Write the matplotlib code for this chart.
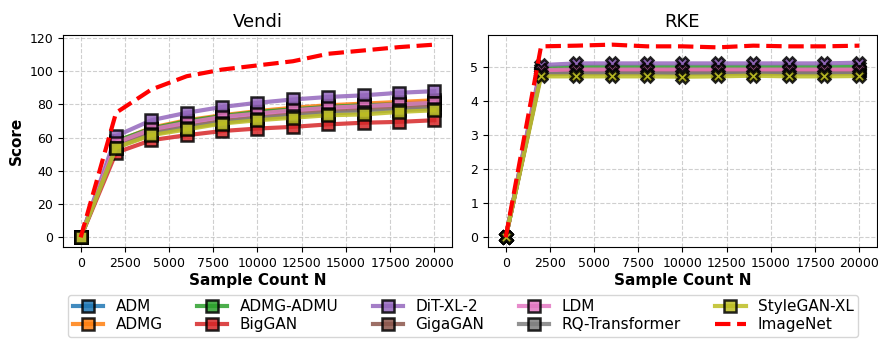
import matplotlib
import matplotlib.pyplot as plt
import numpy as np

matplotlib.use('Agg')

sample_counts = [0, 2000, 4000, 6000, 8000, 10000, 12000, 14000, 16000, 18000, 20000]

models = ['ADM', 'ADMG', 'ADMG-ADMU', 'BigGAN', 'DiT-XL-2',
          'GigaGAN', 'LDM', 'RQ-Transformer', 'StyleGAN-XL']

vendi_adm = [0, 57, 65, 69.5, 72.5, 75, 77, 78.5, 79.5, 80.5, 81.5]
vendi_admg = [0, 57.5, 66, 70.5, 73.5, 76, 78, 79.5, 80.5, 81.5, 82.5]
vendi_admg_admu = [0, 58, 65.5, 70, 73, 75.5, 77, 78.5, 79.5, 80, 80.5]
vendi_biggan = [0, 51, 58.5, 61.5, 64, 65.5, 66.5, 68, 69, 69.5, 70.5]
vendi_dit = [0, 61, 70.5, 75, 78.5, 81, 83, 84.5, 85.5, 87, 88]
vendi_gigagan = [0, 55, 63, 67, 70, 72.5, 74.5, 76, 77, 78, 78.5]
vendi_ldm = [0, 57, 65, 69, 72.5, 74.5, 76.5, 78, 79, 80, 81]
vendi_rq = [0, 54, 62, 66, 69, 71.5, 73, 74.5, 75.5, 76.5, 77.5]
vendi_stylegan = [0, 54, 61.5, 65, 68.5, 70.5, 72, 73.5, 74, 75.5, 76.5]
vendi_imagenet = [0, 75, 89, 97, 101, 103.5, 106, 110.5, 112.5, 114.5, 116]

rke_adm = [0, 4.85, 4.87, 4.87, 4.87, 4.87, 4.87, 4.87, 4.87, 4.87, 4.88]
rke_admg = [0, 4.9, 4.93, 4.93, 4.93, 4.93, 4.93, 4.93, 4.93, 4.93, 4.93]
rke_admg_admu = [0, 4.97, 5.0, 5.0, 5.0, 5.0, 5.0, 5.0, 5.0, 5.0, 5.01]
rke_biggan = [0, 4.84, 4.86, 4.86, 4.86, 4.86, 4.86, 4.86, 4.86, 4.86, 4.86]
rke_dit = [0, 5.05, 5.1, 5.1, 5.1, 5.1, 5.1, 5.1, 5.1, 5.1, 5.12]
rke_gigagan = [0, 4.8, 4.82, 4.82, 4.82, 4.82, 4.82, 4.82, 4.82, 4.82, 4.82]
rke_ldm = [0, 4.9, 4.92, 4.92, 4.92, 4.92, 4.92, 4.92, 4.92, 4.92, 4.92]
rke_rq = [0, 4.78, 4.8, 4.8, 4.8, 4.8, 4.8, 4.8, 4.8, 4.8, 4.8]
rke_stylegan = [0, 4.72, 4.72, 4.72, 4.72, 4.71, 4.72, 4.74, 4.72, 4.72, 4.73]
rke_imagenet = [0, 5.6, 5.62, 5.65, 5.6, 5.6, 5.57, 5.62, 5.6, 5.6, 5.62]

vendi = [vendi_adm, vendi_admg, vendi_admg_admu, vendi_biggan, vendi_dit,
         vendi_gigagan, vendi_ldm, vendi_rq, vendi_stylegan]
rke = [rke_adm, rke_admg, rke_admg_admu, rke_biggan, rke_dit,
       rke_gigagan, rke_ldm, rke_rq, rke_stylegan]

W, H = 879, 343
fig = plt.figure(figsize=(W / 100, H / 100), dpi=100)
ax_vendi = fig.add_axes([63 / W, 96 / H, 389 / W, 212 / H])
ax_rke = fig.add_axes([488 / W, 96 / H, 389 / W, 212 / H])

panels = [
    (ax_vendi, 'Vendi', vendi, vendi_imagenet, 's'),
    (ax_rke, 'RKE', rke, rke_imagenet, 'X'),
]

for ax, title, series, imagenet, marker in panels:
    for i, (name, values) in enumerate(zip(models, series)):
        ax.plot(sample_counts, values, marker=marker, color=f'C{i}',
                lw=3, ms=8, mec='black', mew=1.8, alpha=0.85, label=name)
    ax.plot(sample_counts, imagenet, '--', color='red', lw=3,
            label='ImageNet')
    ax.set_title(title, fontsize=13)
    ax.set_xlabel('Sample Count N', fontsize=11, fontweight='bold',
                  labelpad=2)
    ax.set_xticks(np.arange(0, 20001, 2500))
    ax.tick_params(labelsize=9)
    ax.grid(True, ls='--', alpha=0.6)

ax_vendi.set_ylabel('Score', fontsize=11, fontweight='bold')
ax_vendi.set_yticks(np.arange(0, 121, 20))

handles, labels = ax_vendi.get_legend_handles_labels()
fig.legend(handles, labels, loc='lower center', ncol=5, fontsize=11,
           bbox_to_anchor=(0.527, -0.005), handlelength=2, columnspacing=2.25,
           labelspacing=0.2, borderpad=0.3)

fig.savefig('out.png', dpi=100)
